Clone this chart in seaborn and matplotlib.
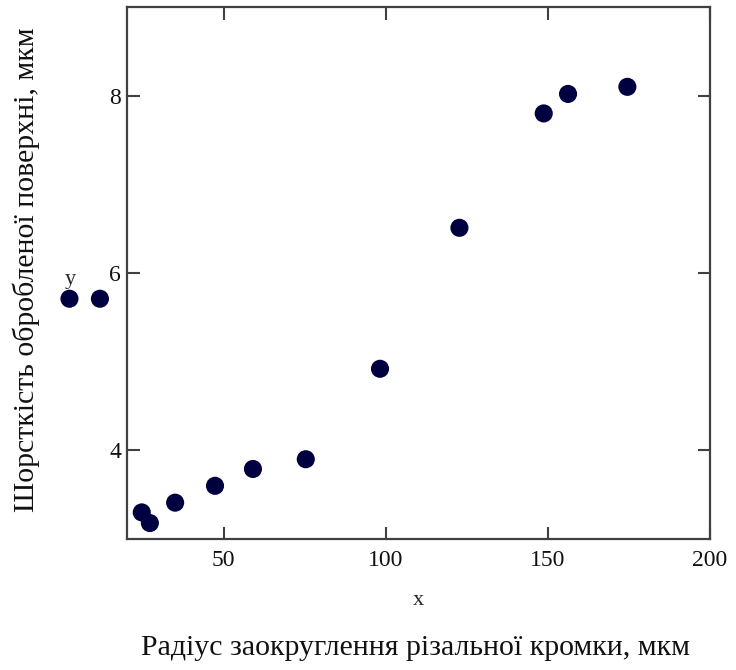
import seaborn as sns
import matplotlib.pyplot as plt

# cutting edge radius (um) and surface roughness (um)
radius = [2.4, 11.8, 24.7, 27.2, 35.0, 47.3, 59.0, 75.3, 98.2, 122.7, 148.7, 156.2, 174.5]
roughness = [5.71, 5.71, 3.30, 3.18, 3.41, 3.60, 3.79, 3.90, 4.92, 6.51, 7.80, 8.02, 8.10]

x_ticks = [50, 100, 150, 200]
y_ticks = [4, 6, 8]

sns.set_style('ticks')
plt.rcParams['font.family'] = ['Liberation Serif', 'DejaVu Serif']

fig = plt.figure(figsize=(7.36, 6.70), dpi=100)
ax = fig.add_axes([0.1719, 0.1955, 0.7928, 0.794])

sns.scatterplot(x=radius, y=roughness, ax=ax, color='#000040', s=170,
                edgecolor='none', clip_on=False, zorder=3)

ax.set_xlim(20, 200)
ax.set_ylim(3, 9)
ax.set_xticks(x_ticks)
ax.set_yticks(y_ticks)
ax.tick_params(direction='in', length=9, width=1.5, color='#404040',
               top=True, right=True, labelsize=17, labelcolor='#111111')
ax.tick_params(axis='x', pad=8)
ax.tick_params(axis='y', pad=4)
for sp in ax.spines.values():
    sp.set_linewidth(1.6)
    sp.set_color('#404040')

ax.set_xlabel('x', fontsize=16, labelpad=14)
ax.set_ylabel('y', fontsize=16, rotation=0)
ax.yaxis.set_label_coords(-0.097, 0.47)

fig.text(0.565, 0.033, 'Радіус заокруглення різальної кромки, мкм',
         ha='center', va='center', fontsize=21.5, color='#111111')
fig.text(0.035, 0.597, 'Шорсткість обробленої поверхні, мкм', rotation=90,
         ha='center', va='center', fontsize=21.5, color='#111111')

fig.savefig('out.png', dpi=100)
